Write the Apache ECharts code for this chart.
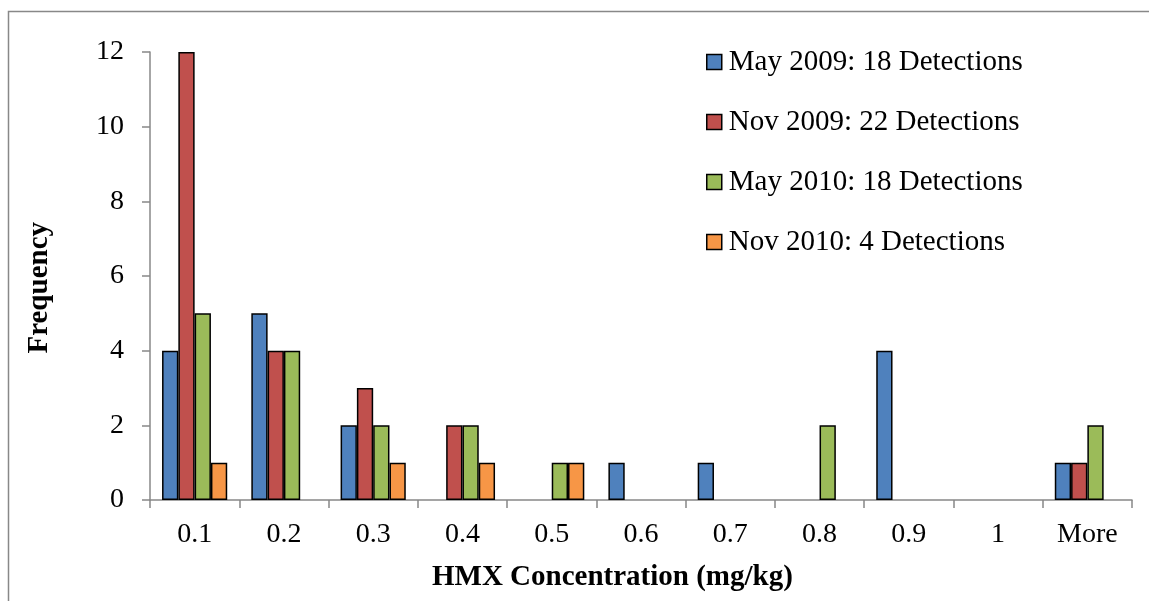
<!DOCTYPE html>
<html lang="en">
<head>
    <meta charset="UTF-8">
    <title>HMX Concentration</title>
    <script src="https://cdn.jsdelivr.net/npm/echarts@6/dist/echarts.min.js"></script>
    <style>
        html, body { margin: 0; padding: 0; background: #fff; }
        #main { width: 1149px; height: 601px; }
    </style>
</head>
<body>
<div id="main"></div>
<script>
    // 数据
    var categories = ['0.1', '0.2', '0.3', '0.4', '0.5', '0.6', '0.7', '0.8', '0.9', '1', 'More'];
    var may2009 = [4, 5, 2, 0, 0, 1, 1, 0, 4, 0, 1];
    var nov2009 = [12, 4, 3, 2, 0, 0, 0, 0, 0, 0, 1];
    var may2010 = [5, 4, 2, 2, 1, 0, 0, 2, 0, 0, 2];
    var nov2010 = [1, 0, 1, 1, 1, 0, 0, 0, 0, 0, 0];
    var seriesNames = ['May 2009: 18 Detections', 'Nov 2009: 22 Detections', 'May 2010: 18 Detections', 'Nov 2010: 4 Detections'];
    var colors = ['#4F81BD', '#C0504D', '#9BBB59', '#F79646'];
    var yTicks = [0, 2, 4, 6, 8, 10, 12];

    var font = '"Liberation Serif", "Times New Roman", serif';
    var myChart = echarts.init(document.getElementById('main'));

    var allData = [may2009, nov2009, may2010, nov2010];
    var series = allData.map(function (d, i) {
        return {
            name: seriesNames[i],
            type: 'bar',
            // 0 不画柱子（避免出现一条横线）
            data: d.map(function (v) { return v === 0 ? '-' : v; }),
            barGap: '0%',
            barCategoryGap: '27%',
            itemStyle: { color: colors[i], borderColor: '#000', borderWidth: 1.5 },
            emphasis: { disabled: true }
        };
    });

    var option = {
        animation: false,
        textStyle: { fontFamily: font, color: '#000' },
        graphic: [
            // 外框
            { type: 'rect', shape: { x: 8.5, y: 11.5, width: 1200, height: 700 }, style: { fill: null, stroke: '#888', lineWidth: 1.5 } },
            { type: 'text', left: 25, top: 222, rotation: Math.PI / 2,
              style: { text: 'Frequency', font: 'bold 29px ' + font, fill: '#000' } },
            { type: 'text', left: 432, top: 563,
              style: { text: 'HMX Concentration (mg/kg)', font: 'bold 29px ' + font, fill: '#000' } }
        ],
        legend: {
            orient: 'vertical',
            left: 701,
            top: 42,
            itemWidth: 15,
            itemHeight: 15,
            itemGap: 30,
            icon: 'rect',
            data: seriesNames,
            textStyle: { fontFamily: font, fontSize: 29, lineHeight: 30, color: '#000', padding: [0, 0, 0, 2] },
            itemStyle: { borderColor: '#000', borderWidth: 1.5 }
        },
        grid: { left: 150, top: 52, right: 17, bottom: 101 },
        xAxis: {
            type: 'category',
            data: categories,
            axisLine: { lineStyle: { color: '#888', width: 1.5 } },
            axisTick: { show: true, length: 8, lineStyle: { color: '#888', width: 1.5 } },
            axisLabel: { fontFamily: font, fontSize: 28, color: '#000', margin: 21 }
        },
        yAxis: {
            type: 'value',
            min: 0,
            max: yTicks[yTicks.length - 1],
            interval: 2,
            splitLine: { show: false },
            axisLine: { show: true, lineStyle: { color: '#888', width: 1.5 } },
            axisTick: { show: true, length: 8, lineStyle: { color: '#888', width: 1.5 } },
            axisLabel: { fontFamily: font, fontSize: 28, color: '#000', margin: 26 }
        },
        series: series
    };
    myChart.setOption(option);
</script>
</body>
</html>
